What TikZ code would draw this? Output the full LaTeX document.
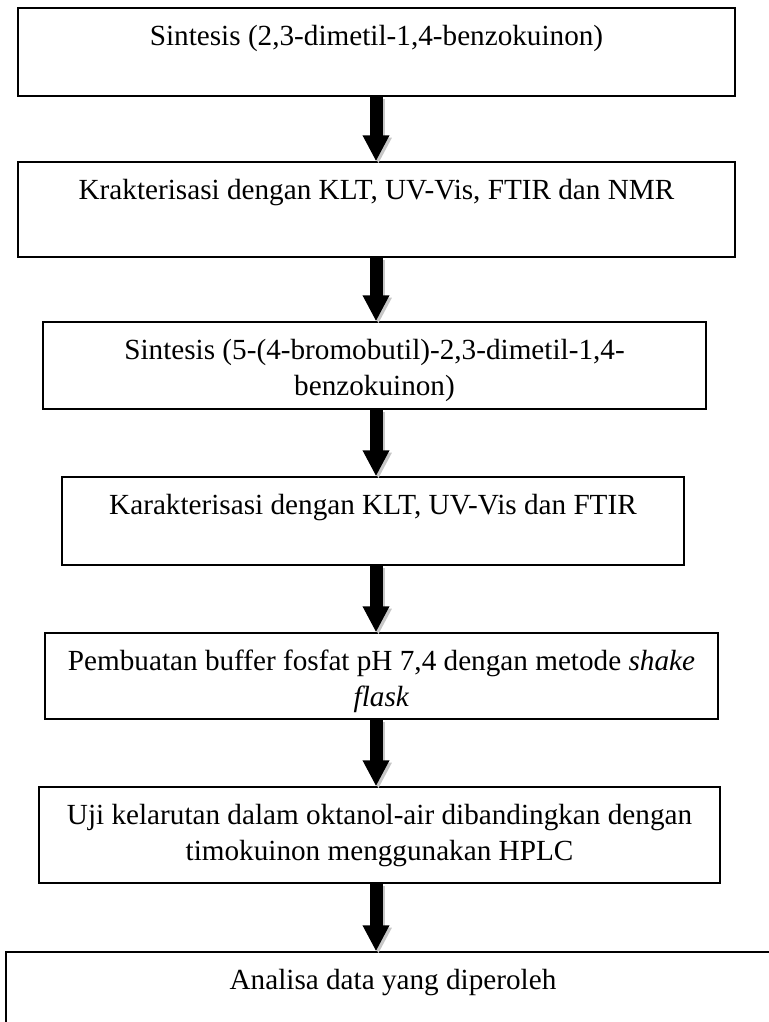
\documentclass[tikz,border=0pt]{standalone}
\usepackage{fontspec}
\setmainfont{Liberation Serif}
\usetikzlibrary{arrows.meta,fit}
\newcommand\lnstrut{\rule{0pt}{12pt}}
\begin{document}
\begin{tikzpicture}[x=0.5pt,y=-0.5pt,
  stepbox/.style={draw=black, line width=0.7pt, inner sep=0pt},
  lbl/.style={anchor=north, inner sep=0pt, align=center,
              font=\fontsize{14.6pt}{18pt}\selectfont},
  flow/.style={line width=6.5pt, -{Triangle[width=12.5pt,length=13pt]}},
  flowshadow/.style={flow, draw=black!22, fill=black!22}]
\useasboundingbox (0,0) rectangle (769,1022);
\clip (0,0) rectangle (769,1022);

% process boxes
\node[stepbox, fit={(18,8) (735,96)}]    (b1) {};
\node[stepbox, fit={(18,162) (735,257)}] (b2) {};
\node[stepbox, fit={(43,322) (706,409)}] (b3) {};
\node[stepbox, fit={(62,477) (684,565)}] (b4) {};
\node[stepbox, fit={(45,633) (718,719)}] (b5) {};
\node[stepbox, fit={(39,787) (720,883)}] (b6) {};
\node[stepbox, fit={(6,952) (780,1070)}] (b7) {};

% box labels, first baseline a fixed distance below each top edge
\node[lbl] (t1) at ([yshift=-7pt]b1.north) {\lnstrut Sintesis (2,3-dimetil-1,4-benzokuinon)};
\node[lbl] (t2) at ([yshift=-7pt]b2.north) {\lnstrut Krakterisasi dengan KLT, UV-Vis, FTIR dan NMR};
\node[lbl] (t3) at ([yshift=-7pt]b3.north) {\lnstrut Sintesis (5-(4-bromobutil)-2,3-dimetil-1,4-\\benzokuinon)};
\node[lbl] (t4) at ([yshift=-7pt]b4.north) {\lnstrut Karakterisasi dengan KLT, UV-Vis dan FTIR};
\node[lbl] (t5) at ([yshift=-7pt]b5.north) {\lnstrut Pembuatan buffer fosfat pH 7,4 dengan metode \textit{shake}\\\textit{flask}};
\node[lbl] (t6) at ([yshift=-7pt]b6.north) {\lnstrut Uji kelarutan dalam oktanol-air dibandingkan dengan\\timokuinon menggunakan HPLC};
\node[lbl] (t7) at ([yshift=-7pt]b7.north) {\lnstrut Analisa data yang diperoleh};

% common vertical line of the arrows
\coordinate (spine) at (376,0);

% soft shadow under the arrows
\begin{scope}[transform canvas={shift={(1.2pt,-1.2pt)}}]
  \foreach \a/\b in {b1/b2,b2/b3,b3/b4,b4/b5,b5/b6,b6/b7}
    \draw[flowshadow] (\a.south -| spine) -- (\b.north -| spine);
\end{scope}

% arrows between steps
\foreach \a/\b in {b1/b2,b2/b3,b3/b4,b4/b5,b5/b6,b6/b7}
  \draw[flow] (\a.south -| spine) -- (\b.north -| spine);
\end{tikzpicture}
\end{document}
